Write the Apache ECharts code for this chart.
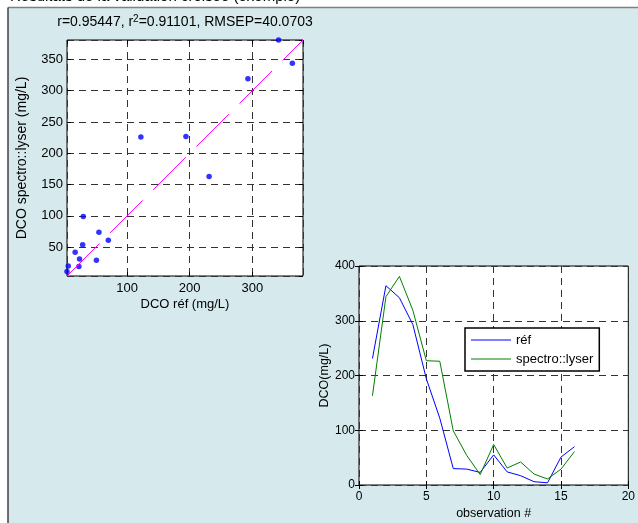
<!DOCTYPE html>
<html><head><meta charset="utf-8">
<script src="https://cdn.jsdelivr.net/npm/echarts@6/dist/echarts.min.js"></script>
<style>html,body{margin:0;padding:0;background:#fff}#c{width:638px;height:523px}</style>
</head><body><div id="c"></div>
<script>
// ---- data ----
const observations = [1, 2, 3, 4, 5, 6, 7, 8, 9, 10, 11, 12, 13, 14, 15, 16];
const refValues = [231, 364, 342, 293, 194, 122, 30, 29, 23, 55, 24, 17, 6, 4, 51, 70];
const spectroValues = [163, 344, 381, 319, 227, 226, 99, 54, 19, 74, 31, 42, 20, 11, 29, 61];
const seriesNames = ['réf', 'spectro::lyser'];
const statsText = 'r=0.95447, r{sup|2}=0.91101, RMSEP=40.0703';
const figureTitle = 'Résultats de la validation croisée (exemple)';
const scatterXName = 'DCO réf (mg/L)';
const scatterYName = 'DCO spectro::lyser (mg/L)';
const timeXName = 'observation #';
const timeYName = 'DCO(mg/L)';

const lo = Math.min(...refValues, ...spectroValues);
const hi = Math.max(...refValues, ...spectroValues);

const FONT = 'Liberation Sans, Arial, sans-serif';
const gridDash = [7, 5];

function valAxis(o) {
  return Object.assign({
    type: 'value',
    axisLine: { show: false },
    axisTick: { show: true, inside: true, length: 4, lineStyle: { color: '#000' } },
    splitLine: { show: false },
    axisLabel: { show: false }
  }, o);
}

const chart = echarts.init(document.getElementById('c'), null, { renderer: 'canvas' });
chart.setOption({
  animation: false,
  textStyle: { fontFamily: FONT },
  graphic: [
    { type: 'rect', z: -100, shape: { x: 8, y: 8, width: 640, height: 520 }, style: { fill: '#d6eaed' } },
    { type: 'line', z: -99, shape: { x1: 8, y1: 7.5, x2: 638, y2: 7.5 }, style: { stroke: '#808080', lineWidth: 1.5 } },
    { type: 'line', z: -99, shape: { x1: 8, y1: 7.5, x2: 8, y2: 523 }, style: { stroke: '#404040', lineWidth: 1.5 } },
    { type: 'text', z: -98, x: 10, y: 4, style: { text: figureTitle, font: '15px ' + FONT, fill: '#000', verticalAlign: 'bottom' } },
    { type: 'text', x: 185, y: 22, style: {
        text: statsText, fontSize: 14, fontFamily: FONT, fill: '#000', align: 'center', verticalAlign: 'middle', lineHeight: 16,
        rich: { sup: { fontSize: 10, fontFamily: FONT, fill: '#000', verticalAlign: 'top', lineHeight: 10 } } } }
  ],
  grid: [
    { left: 67, top: 40, width: 236, height: 236, show: true, backgroundColor: '#fff', borderColor: '#000', borderWidth: 1, containLabel: false },
    { left: 359, top: 266, width: 271, height: 219, show: true, backgroundColor: '#fff', borderColor: '#000', borderWidth: 1, containLabel: false }
  ],
  legend: {
    data: seriesNames,
    orient: 'vertical',
    left: 465, top: 328,
    width: 135,
    padding: [5, 6, 5, 6],
    itemGap: 5,
    icon: 'rect',
    itemWidth: 40, itemHeight: 1.2,
    backgroundColor: '#fff',
    borderColor: '#000', borderWidth: 1.5, borderRadius: 0,
    textStyle: { fontSize: 13, color: '#000', fontFamily: FONT, lineHeight: 14 },
    selectedMode: false
  },
  xAxis: [
    valAxis({ gridIndex: 0, min: lo, max: hi, minInterval: 100, maxInterval: 100, splitNumber: 4,
      name: scatterXName, nameLocation: 'middle', nameGap: 22, nameTextStyle: { fontSize: 13, color: '#000' },
      axisLabel: { show: true, showMinLabel: false, showMaxLabel: false, color: '#000', fontSize: 13, margin: 6 },
      splitLine: { show: true, lineStyle: { color: '#333', type: gridDash, width: 1 } } }),
    valAxis({ gridIndex: 0, position: 'top', min: lo, max: hi, minInterval: 100, maxInterval: 100, splitNumber: 4 }),
    valAxis({ gridIndex: 1, min: 0, max: 20, interval: 5,
      name: timeXName, nameLocation: 'middle', nameGap: 22, nameTextStyle: { fontSize: 12.5, color: '#000' },
      axisLabel: { show: true, color: '#000', fontSize: 12, margin: 6 },
      splitLine: { show: true, lineStyle: { color: '#333', type: gridDash, width: 1 } } }),
    valAxis({ gridIndex: 1, position: 'top', min: 0, max: 20, interval: 5 })
  ],
  yAxis: [
    valAxis({ gridIndex: 0, min: lo, max: hi, minInterval: 50, maxInterval: 50, splitNumber: 8,
      name: scatterYName, nameLocation: 'middle', nameGap: 38, nameTextStyle: { fontSize: 14, color: '#000' },
      axisLabel: { show: true, showMinLabel: false, showMaxLabel: false, color: '#000', fontSize: 13, margin: 4 },
      splitLine: { show: true, lineStyle: { color: '#333', type: gridDash, width: 1 } } }),
    valAxis({ gridIndex: 0, position: 'right', min: lo, max: hi, minInterval: 50, maxInterval: 50, splitNumber: 8 }),
    valAxis({ gridIndex: 1, min: 0, max: 400, interval: 100,
      name: timeYName, nameLocation: 'middle', nameGap: 25, nameTextStyle: { fontSize: 12.5, color: '#000' },
      axisLabel: { show: true, color: '#000', fontSize: 12, margin: 4 },
      splitLine: { show: true, lineStyle: { color: '#333', type: gridDash, width: 1 } } }),
    valAxis({ gridIndex: 1, position: 'right', min: 0, max: 400, interval: 100 })
  ],
  series: [
    { name: 'identity', type: 'line', xAxisIndex: 0, yAxisIndex: 0, symbol: 'none', silent: true,
      data: [[lo, lo], [hi, hi]], lineStyle: { color: '#ff00ff', width: 1, type: [46, 15] } },
    { name: 'points', type: 'scatter', xAxisIndex: 0, yAxisIndex: 0, symbolSize: 5.5,
      itemStyle: { color: '#0000ff' }, data: refValues.map((r, i) => [r, spectroValues[i]]) },
    { name: seriesNames[0], type: 'line', xAxisIndex: 2, yAxisIndex: 2, symbol: 'none',
      color: '#0000ff', lineStyle: { color: '#0000ff', width: 1 },
      data: observations.map((o, i) => [o, refValues[i]]) },
    { name: seriesNames[1], type: 'line', xAxisIndex: 2, yAxisIndex: 2, symbol: 'none',
      color: '#008000', lineStyle: { color: '#008000', width: 1 },
      data: observations.map((o, i) => [o, spectroValues[i]]) }
  ]
});
</script></body></html>
